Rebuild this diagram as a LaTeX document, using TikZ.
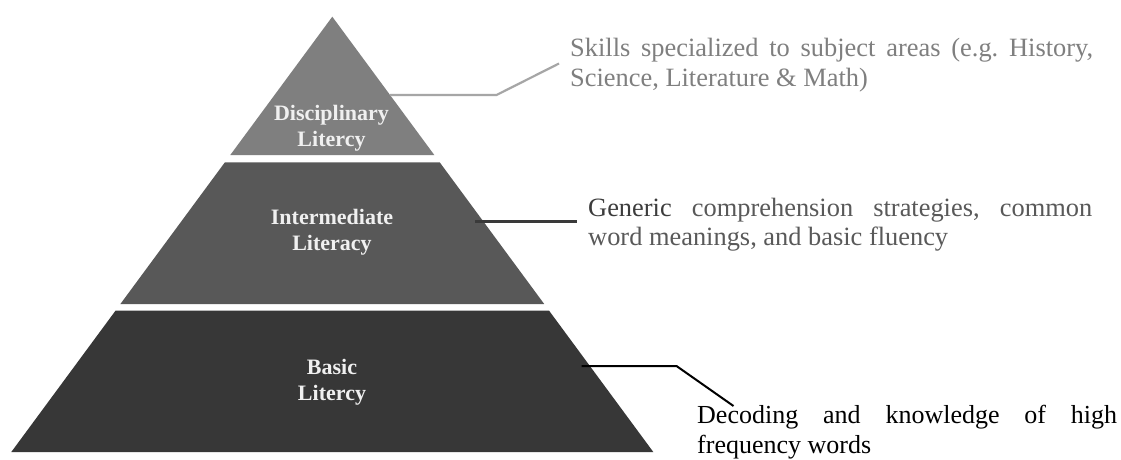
\documentclass[tikz,border=0pt]{standalone}
\usepackage{fontspec}
\setmainfont{Liberation Serif}
\usetikzlibrary{fadings}
\frenchspacing

% soft edge for the drop shadow under the base tier
\tikzfading[name=fade sides, left color=transparent!100, middle color=transparent!0, right color=transparent!100]

\definecolor{tierTop}{RGB}{127,127,127}
\definecolor{tierMid}{RGB}{88,88,88}
\definecolor{tierBase}{RGB}{55,55,55}
\definecolor{leadTop}{RGB}{166,166,166}
\definecolor{leadMid}{RGB}{58,58,58}
\definecolor{noteTop}{RGB}{127,127,127}
\definecolor{noteMid}{RGB}{89,89,89}
\definecolor{noteMidStrong}{RGB}{60,60,60}

\begin{document}
\begin{tikzpicture}[x=1pt, y=-1pt,
  % multi-line labels: the base anchor sits on the last line
  tierlabel/.style={text=white!94!black, font=\fontsize{22}{26}\selectfont\bfseries,
                    align=center, inner sep=0pt, anchor=base},
  note/.style={anchor=base west, inner sep=0pt, align=justify,
               font=\fontsize{26.4}{30.5}\selectfont},
  leader/.style={line width=2.2pt, line join=miter}]

\useasboundingbox (0,0) rectangle (1121,459);
\fill[white] (0,0) rectangle (1121,459);

% drop shadow beneath the pyramid
\shade[path fading=fade sides, top color=black!55, bottom color=white]
  (18,451) rectangle (648,461);

% three tiers of the pyramid
\fill[tierTop]  (332.3,16.7) -- (434.3,155) -- (230.3,155) -- cycle;
\fill[tierMid]  (224.9,162.3) -- (439.7,162.3) -- (544.2,304) -- (120.4,304) -- cycle;
\fill[tierBase] (115.5,310.7) -- (549.1,310.7) -- (653.3,452) -- (11.3,452) -- cycle;

% tier labels
\node[tierlabel] (disc)  at (331.5,146) {Disciplinary\\Litercy};
\node[tierlabel] (inter) at (332,250)   {Intermediate\\Literacy};
\node[tierlabel] (basic) at (332,400)   {Basic\\Litercy};

% descriptions
\node[note, text width=523pt, text=noteTop] (skills) at (570,56)
  {Skills specialized to subject areas (e.g. History,\linebreak Science, Literature \& Math)};
\node[note, text width=504pt, text=noteMid, font=\fontsize{26.4}{28.5}\selectfont] (generic) at (588,216.5)
  {\textcolor{noteMidStrong}{Generic} comprehension strategies, common\linebreak word meanings, and basic fluency};
\node[note, text width=420pt, text=black, font=\fontsize{26}{30}\selectfont] (decoding) at (697,423)
  {Decoding and knowledge of high\linebreak frequency words};

% leader lines from the tiers to their descriptions
\coordinate (discEdge) at (390,95);
\coordinate (discBend) at (496.5,95);
\coordinate (discEnd)  at (559,63.5);
\draw[leader, draw=leadTop] (discEdge) -- (discBend) -- (discEnd);

\coordinate (interEdge) at (475,221.5);
\coordinate (interEnd)  at (577,221.5);
\draw[leader, draw=leadMid, line width=2.6pt] (interEdge) -- (interEnd);

\coordinate (basicEdge) at (581.5,366);
\coordinate (basicBend) at (676.5,366);
\coordinate (basicEnd)  at (733.5,406);
\draw[leader, draw=black, line width=2pt] (basicEdge) -- (basicBend) -- (basicEnd);
\end{tikzpicture}
\end{document}
